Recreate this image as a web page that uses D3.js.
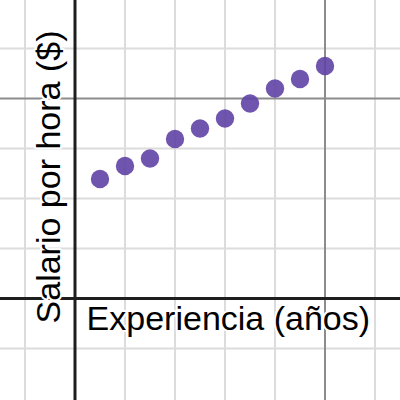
<!DOCTYPE html>
<html>
<head>
<meta charset="utf-8">
<script src="https://cdn.jsdelivr.net/npm/d3@7"></script>
<style>
  html, body { margin: 0; padding: 0; background: #fff; }
  svg { display: block; }
</style>
</head>
<body>
<svg id="chart" width="400" height="400"></svg>
<script>
// Data (experience in years, hourly wage in $)
const experienceYears = [0.5, 1.0, 1.5, 2.0, 2.5, 3.0, 3.5, 4.0, 4.5, 5.0];
const hourlyWage = [11.95, 13.25, 14.0, 15.95, 17.0, 18.0, 19.5, 21.0, 21.95, 23.25];
const xGridTicks = [-1, 1, 2, 3, 4, 6];
const xMajorTicks = [5];
const yGridTicks = [-5, 5, 10, 15, 25];
const yMajorTicks = [20];
const xAxisLabel = "Experiencia (años)";
const yAxisLabel = "Salario por hora ($)";

const W = 400, H = 400;
const svg = d3.select("#chart");
svg.append("rect").attr("width", W).attr("height", H).attr("fill", "#fff");

const x = d3.scaleLinear().domain([-1.5, 6.5]).range([0, W]);
const y = d3.scaleLinear().domain([-10.15, 29.85]).range([H, 0]);

// minor grid
svg.append("g").selectAll("line").data(xGridTicks).join("line")
  .attr("x1", d => x(d)).attr("x2", d => x(d)).attr("y1", 0).attr("y2", H)
  .attr("stroke", "#dcdcdc").attr("stroke-width", 2);
svg.append("g").selectAll("line").data(yGridTicks).join("line")
  .attr("y1", d => y(d)).attr("y2", d => y(d)).attr("x1", 0).attr("x2", W)
  .attr("stroke", "#dcdcdc").attr("stroke-width", 2);
// major grid
svg.append("g").selectAll("line").data(xMajorTicks).join("line")
  .attr("x1", d => x(d)).attr("x2", d => x(d)).attr("y1", 0).attr("y2", H)
  .attr("stroke", "#8c8c8c").attr("stroke-width", 2);
svg.append("g").selectAll("line").data(yMajorTicks).join("line")
  .attr("y1", d => y(d)).attr("y2", d => y(d)).attr("x1", 0).attr("x2", W)
  .attr("stroke", "#8c8c8c").attr("stroke-width", 2);
// axes
svg.append("line").attr("x1", x(0)).attr("x2", x(0)).attr("y1", 0).attr("y2", H)
  .attr("stroke", "#1e1e1e").attr("stroke-width", 3);
svg.append("line").attr("y1", y(0)).attr("y2", y(0)).attr("x1", 0).attr("x2", W)
  .attr("stroke", "#1e1e1e").attr("stroke-width", 3);

// points
svg.append("g").selectAll("circle").data(experienceYears).join("circle")
  .attr("cx", d => x(d)).attr("cy", (d, i) => y(hourlyWage[i])).attr("r", 9.2)
  .attr("fill", "#6042a6").attr("fill-opacity", 0.9);

// labels
const fontFam = "'Liberation Sans', Arial, Helvetica, sans-serif";
svg.append("text").text(xAxisLabel)
  .attr("x", 86.6).attr("y", 330)
  .attr("font-family", fontFam).attr("font-size", 34).attr("fill", "#000")
  .attr("stroke", "#fff").attr("stroke-width", 4).attr("paint-order", "stroke")
  .attr("stroke-linejoin", "round");
svg.append("text").text(yAxisLabel)
  .attr("transform", "translate(59.5,177) rotate(-90)")
  .attr("text-anchor", "middle")
  .attr("font-family", fontFam).attr("font-size", 34).attr("fill", "#000")
  .attr("stroke", "#fff").attr("stroke-width", 4).attr("paint-order", "stroke")
  .attr("stroke-linejoin", "round");
</script>
</body>
</html>
